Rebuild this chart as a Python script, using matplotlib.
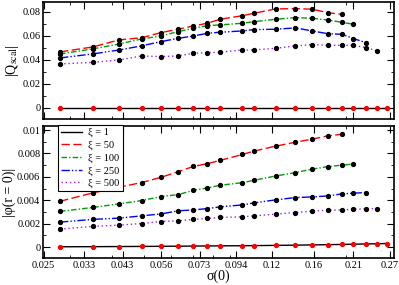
import numpy as np
import matplotlib
matplotlib.use("Agg")
import matplotlib.pyplot as plt
from matplotlib.ticker import FixedLocator, FixedFormatter, NullFormatter, LogLocator, MultipleLocator

plt.rcParams['font.family'] = ['Liberation Serif', 'DejaVu Serif']
plt.rcParams['mathtext.fontset'] = 'stix'

# sigma(0) grid shared by all series
sigma = [0.028, 0.035, 0.042, 0.049, 0.056, 0.063, 0.070, 0.077, 0.084, 0.098,
         0.106, 0.123, 0.141, 0.158, 0.176, 0.194, 0.210, 0.229, 0.247, 0.264]

xi_labels = ['ξ = 1', 'ξ = 50', 'ξ = 100', 'ξ = 250', 'ξ = 500']

# |Q_scal|
q_xi1 = [0.0] * 20
q_xi50 = [0.0467, 0.0508, 0.0567, 0.0585, 0.0628, 0.0656, 0.0683, 0.0706, 0.0739, 0.0769,
          0.0789, 0.0825, 0.0828, 0.0823, 0.0794, 0.0780]
q_xi100 = [0.0450, 0.0492, 0.0533, 0.0575, 0.0600, 0.0636, 0.0664, 0.0686, 0.0692, 0.0706,
           0.0719, 0.0739, 0.0753, 0.0747, 0.0733, 0.0714, 0.0697]
q_xi250 = [0.0417, 0.0450, 0.0483, 0.0517, 0.0553, 0.0580, 0.0600, 0.0622, 0.0631, 0.0642,
           0.0653, 0.0656, 0.0667, 0.0642, 0.0619, 0.0614, 0.0578, 0.0544]
q_xi500 = [0.0367, 0.0380, 0.0400, 0.0433, 0.0428, 0.0433, 0.0456, 0.0460, 0.0464, 0.0483,
           0.0483, 0.0497, 0.0517, 0.0528, 0.0522, 0.0522, 0.0522, 0.0503, 0.0475]

# |phi(r=0)|
p_xi1 = [0.00002, 0.00003, 0.00004, 0.00005, 0.00006, 0.00007, 0.00008, 0.00009, 0.00010, 0.00011,
         0.00012, 0.00014, 0.00016, 0.00018, 0.00020, 0.00022, 0.00024, 0.00026, 0.00028, 0.00030]
p_xi50 = [0.00391, 0.00462, 0.00511, 0.00551, 0.00596, 0.00644, 0.00689, 0.00712, 0.00740, 0.00791,
          0.00820, 0.00862, 0.00896, 0.00922, 0.00950, 0.00964]
p_xi100 = [0.00304, 0.00338, 0.00369, 0.00397, 0.00431, 0.00448, 0.00485, 0.00505, 0.00528, 0.00550,
           0.00570, 0.00607, 0.00636, 0.00666, 0.00687, 0.00700, 0.00709]
p_xi250 = [0.00213, 0.00236, 0.00247, 0.00266, 0.00283, 0.00309, 0.00318, 0.00328, 0.00343, 0.00360,
           0.00377, 0.00403, 0.00423, 0.00428, 0.00437, 0.00454, 0.00460, 0.00466]
p_xi500 = [0.00153, 0.00176, 0.00187, 0.00201, 0.00218, 0.00224, 0.00236, 0.00244, 0.00253, 0.00258,
           0.00266, 0.00281, 0.00295, 0.00306, 0.00315, 0.00317, 0.00323, 0.00326, 0.00329]

xticks = [0.025, 0.033, 0.043, 0.056, 0.073, 0.094, 0.12, 0.16, 0.21, 0.27]
xtick_labels = ['0.025', '0.033', '0.043', '0.056', '0.073', '0.094', '0.12', '0.16', '0.21', '0.27']

colors = ['black', 'red', '#00a000', 'blue', '#a020f0']
styles = ['-', (0, (6, 2.5)), (0, (4, 1.5, 1, 1.5)), (0, (6, 1.5, 1, 1.5, 1, 1.5)), (0, (1, 2))]

fig = plt.figure(figsize=(3.99, 2.85), dpi=100)
ax1 = fig.add_axes([0.108, 0.5825, 0.8795, 0.4105])
ax2 = fig.add_axes([0.108, 0.0947, 0.8795, 0.463])

q_sets = [q_xi1, q_xi50, q_xi100, q_xi250, q_xi500]
p_sets = [p_xi1, p_xi50, p_xi100, p_xi250, p_xi500]

for ax, sets in [(ax1, q_sets), (ax2, p_sets)]:
    for i, ys in enumerate(sets):
        xs = sigma[:len(ys)]
        ax.plot(xs, ys, color=colors[i], linestyle=styles[i], lw=1.0, label=xi_labels[i])
        mcol = 'red' if i == 0 else 'black'
        ax.plot(xs, ys, linestyle='none', marker='o', ms=2.8, mfc=mcol, mec=mcol, zorder=3)

for ax in (ax1, ax2):
    ax.set_xscale('log')
    ax.set_xlim(0.02492, 0.2775)
    ax.xaxis.set_major_locator(FixedLocator(xticks))
    ax.xaxis.set_major_formatter(FixedFormatter(xtick_labels))
    ax.xaxis.set_minor_locator(LogLocator(base=10, subs=np.arange(2, 10), numticks=50))
    ax.xaxis.set_minor_formatter(NullFormatter())
    ax.tick_params(which='both', direction='in', top=True, right=True, labelsize=7.5, pad=2)
    ax.tick_params(which='major', length=5, width=0.8)
    ax.tick_params(which='minor', length=2.5, width=0.6)
    for sp in ax.spines.values():
        sp.set_linewidth(1.2)

ax1.set_ylim(-0.0092, 0.0883)
ax1.set_yticks([0, 0.02, 0.04, 0.06, 0.08])
ax1.set_yticklabels(['0', '0.02', '0.04', '0.06', '0.08'])
ax1.yaxis.set_minor_locator(MultipleLocator(0.01))
ax1.tick_params(labelbottom=False)
ax1.set_ylabel('|Q$_{\\rm scal}$|', fontsize=10, labelpad=1)

ax2.set_ylim(-0.00094, 0.01034)
ax2.set_yticks([0, 0.002, 0.004, 0.006, 0.008, 0.01])
ax2.set_yticklabels(['0', '0.002', '0.004', '0.006', '0.008', '0.01'])
ax2.yaxis.set_minor_locator(MultipleLocator(0.001))
ax2.set_ylabel('|φ(r = 0)|', fontsize=10, labelpad=1)
ax2.set_xlabel('σ(0)', fontsize=10, labelpad=0)

leg = ax2.legend(loc='upper left', bbox_to_anchor=(0.043, 1.01), fontsize=7.5, frameon=True,
                 fancybox=False, handlelength=2.0, handletextpad=0.6, borderpad=0.3,
                 labelspacing=0.3, borderaxespad=0)
leg.get_frame().set_edgecolor('black')
leg.get_frame().set_linewidth(0.8)
leg.get_frame().set_alpha(1)

fig.savefig('out.png', dpi=100)
